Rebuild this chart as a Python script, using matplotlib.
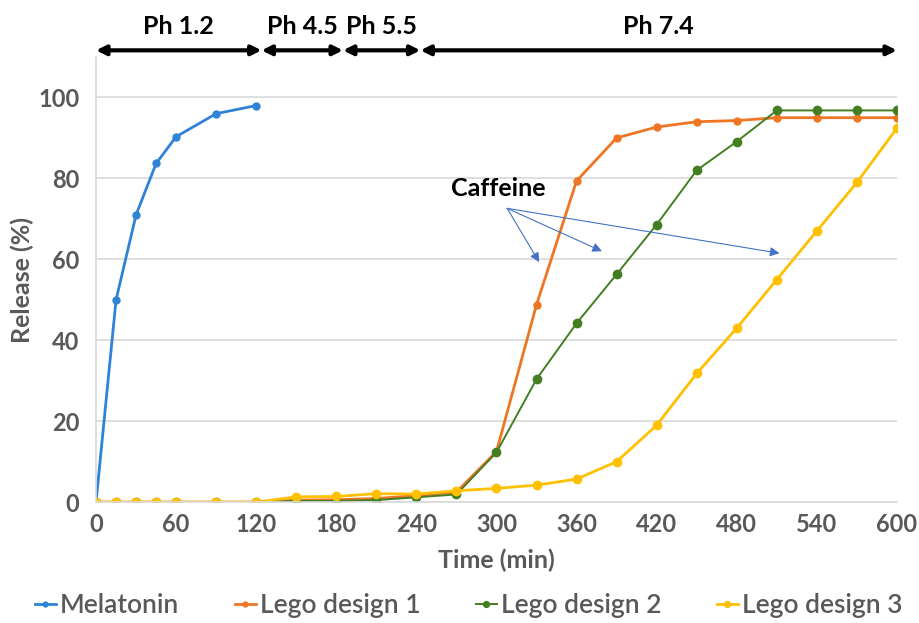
import matplotlib
matplotlib.use("Agg")
import matplotlib.pyplot as plt
import matplotlib.transforms as mtransforms

# ── data ──────────────────────────────────────────────────────────────────────
mel_time = [0, 15, 30, 45, 60, 90, 120]
melatonin = [0, 50.0, 71.0, 83.7, 90.3, 96.0, 98.0]

lego_time = [0, 15, 30, 45, 60, 90, 120, 150, 180, 210, 240, 270, 300,
             330, 360, 390, 420, 450, 480, 510, 540, 570, 600]
lego1 = [0, 0, 0, 0, 0, 0, 0, 0.5, 0.6, 0.9, 1.6, 2.5, 12.5,
         48.8, 79.4, 90.0, 92.7, 94.0, 94.3, 95.0, 95.0, 95.0, 95.0]
lego2 = [0, 0, 0, 0, 0, 0, 0, 0.3, 0.3, 0.5, 1.2, 1.9, 12.3,
         30.4, 44.2, 56.3, 68.6, 82.0, 89.1, 96.8, 96.8, 96.8, 96.8]
lego3 = [0, 0, 0, 0, 0, 0, 0, 1.3, 1.4, 2.1, 2.0, 2.8, 3.4,
         4.2, 5.7, 10.0, 19.0, 31.8, 43.0, 55.0, 67.0, 79.0, 92.4]

series_labels = ["Melatonin", "Lego design 1", "Lego design 2", "Lego design 3"]
x_ticks = [0, 60, 120, 180, 240, 300, 360, 420, 480, 540, 600]
y_ticks = [0, 20, 40, 60, 80, 100]

# pH phases (start, end, label)
phase_bounds = [0, 124, 185, 243, 600]
phase_labels = ["Ph 1.2", "Ph 4.5", "Ph 5.5", "Ph 7.4"]

# caffeine annotation: text origin and arrow targets
caf_origin = (308, 72.6)
caf_targets = [(332, 59.3), (379, 62.0), (512, 61.5)]

# ── style ─────────────────────────────────────────────────────────────────────
plt.rcParams["font.family"] = ["Lato", "DejaVu Sans"]
GRAY = "#595959"
C_MEL = "#2F83D6"
C_L1 = "#EE7623"
C_L2 = "#447E22"
C_L3 = "#FFC000"

fig = plt.figure(figsize=(9.19, 6.23), dpi=100)
ax = fig.add_axes([0.1045, 0.194, 0.8715, 0.7145])

ax.plot(mel_time, melatonin, color=C_MEL, lw=2.0, marker="o", ms=5, label=series_labels[0])
ax.plot(lego_time, lego1, color=C_L1, lw=2.0, marker="o", ms=5, label=series_labels[1])
ax.plot(lego_time, lego2, color=C_L2, lw=1.4, marker="o", ms=6, label=series_labels[2])
ax.plot(lego_time, lego3, color=C_L3, lw=2.0, marker="o", ms=6, label=series_labels[3])

ax.set_xlim(0, 600)
ax.set_ylim(0, 110)
ax.set_xticks(x_ticks)
ax.set_yticks(y_ticks)
ax.tick_params(axis="x", length=0, labelsize=17, labelcolor=GRAY, pad=8)
ax.tick_params(axis="y", length=0, labelsize=17, labelcolor=GRAY, pad=12)
for lab in ax.get_xticklabels() + ax.get_yticklabels():
    lab.set_fontweight("bold")

ax.yaxis.grid(True, color="#D9D9D9", lw=1.2)
ax.set_axisbelow(True)
for s in ["top", "right"]:
    ax.spines[s].set_visible(False)
ax.spines["left"].set_color("#D9D9D9")
ax.spines["bottom"].set_color("#D9D9D9")
ax.spines["left"].set_linewidth(1.2)
ax.spines["bottom"].set_linewidth(1.2)

ax.set_xlabel("Time (min)", fontsize=18, fontweight="bold", color=GRAY, labelpad=9)
ax.set_ylabel("Release (%)", fontsize=18, fontweight="bold", color=GRAY, labelpad=3)

# ── pH phase arrows above the axes ───────────────────────────────────────────
trans = mtransforms.blended_transform_factory(ax.transData, ax.transAxes)
for i, lab in enumerate(phase_labels):
    x0, x1 = phase_bounds[i], phase_bounds[i + 1]
    ax.annotate("", xy=(x1, 1.015), xytext=(x0, 1.015), xycoords=trans,
                textcoords=trans, annotation_clip=False,
                arrowprops=dict(arrowstyle="<|-|>", color="black", lw=3,
                                mutation_scale=14, shrinkA=0, shrinkB=0))
    ax.text((x0 + x1) / 2, 1.043, lab, transform=trans, ha="center",
            va="bottom", fontsize=18, fontweight="bold", color="black")

# ── caffeine annotation ──────────────────────────────────────────────────────
ax.text(301, 77.5, "Caffeine", ha="center", va="center", fontsize=18,
        fontweight="bold", color="black")
for tx, ty in caf_targets:
    ax.annotate("", xy=(tx, ty), xytext=caf_origin,
                arrowprops=dict(arrowstyle="-|>", color="#4472C4", lw=0.8,
                                mutation_scale=14, shrinkA=0, shrinkB=0))

# ── legend ───────────────────────────────────────────────────────────────────
handles, labels = ax.get_legend_handles_labels()
leg = fig.legend(handles, labels, loc="lower center", bbox_to_anchor=(0.51, -0.03),
                 ncol=4, frameon=False, fontsize=19, handlelength=0.8,
                 handletextpad=0.15, columnspacing=2.1, labelcolor=GRAY,
                 markerscale=0.7)
for t in leg.get_texts():
    t.set_fontweight("semibold")

fig.savefig("out.png", dpi=100)
